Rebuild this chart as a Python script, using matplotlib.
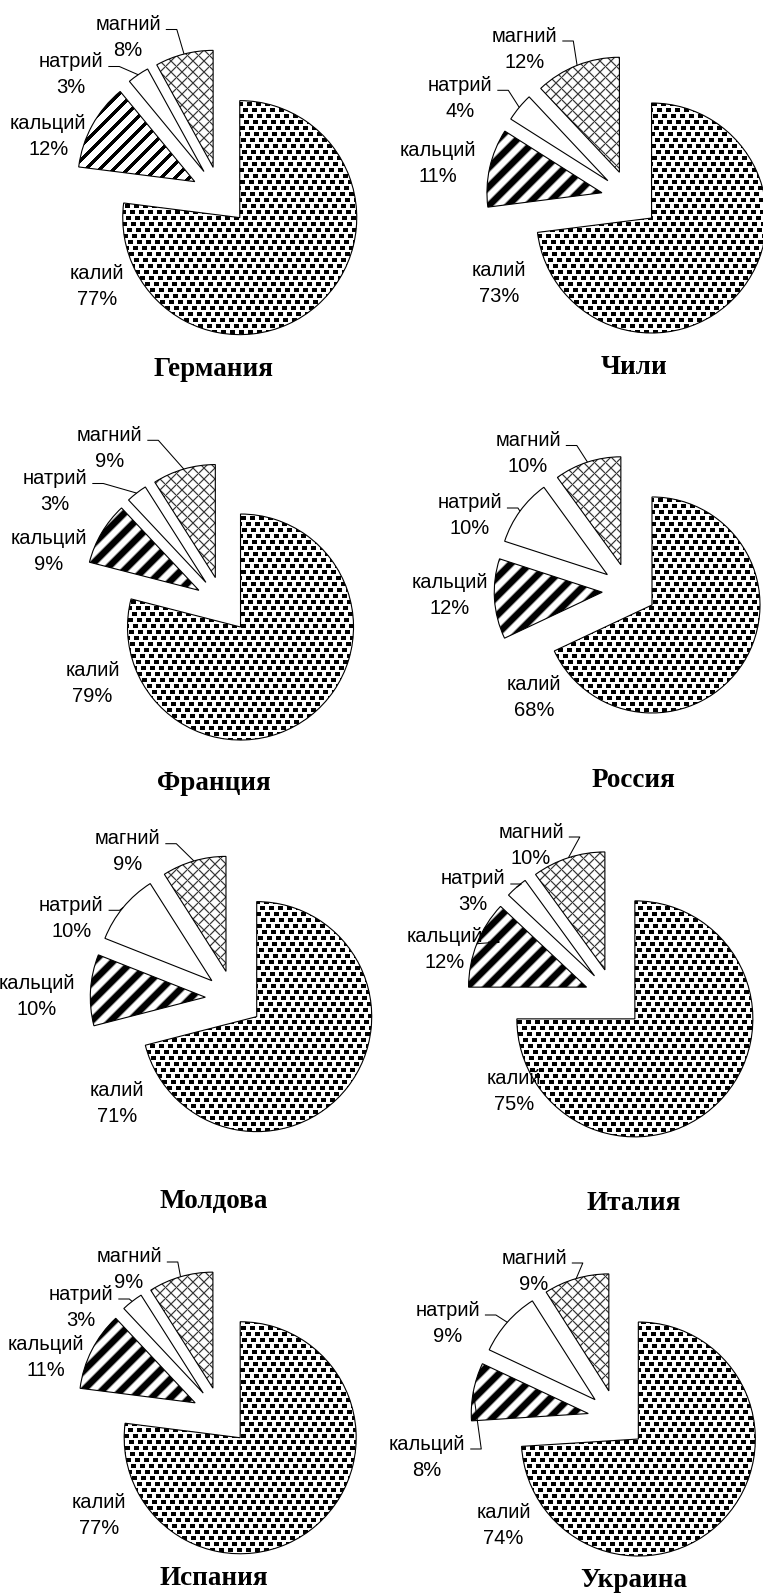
import numpy as np
import matplotlib
matplotlib.use("Agg")
import matplotlib.pyplot as plt
from matplotlib import font_manager

# ---------------------------------------------------------------- data
countries = ["Германия", "Чили", "Франция", "Россия",
             "Молдова", "Италия", "Испания", "Украина"]
elements = ["калий", "кальций", "натрий", "магний"]
potassium = [77, 73, 79, 68, 71, 75, 77, 74]
calcium = [12, 11, 9, 12, 10, 12, 11, 8]
sodium = [3, 4, 3, 10, 10, 3, 3, 9]
magnesium = [8, 12, 9, 10, 9, 10, 9, 9]

# ---------------------------------------------------------------- layout
W, H = 763, 1596  # figure size in pixels (dpi = 100)

# pixel positions measured from the top-left corner
layout = {
    "Германия": dict(center=(220.4, 195.7), r=117, title=(214, 376),
                     labels=[(96.7, 286.7), (48.3, 136.7), (71, 74.5), (128, 37.5)],
                     leaders=[False, False, True, True], crisp=True),
    "Чили": dict(center=(630, 199), r=115, title=(634, 374),
                 labels=[(499.3, 283.3), (437.7, 163.3), (460, 98.3), (524.5, 49)],
                 leaders=[False, False, True, True], crisp=False),
    "Франция": dict(center=(223.2, 604.7), r=113, title=(214, 790),
                    labels=[(92.5, 683), (48.7, 551.5), (55, 491.5), (109.5, 448.3)],
                    leaders=[False, False, True, True], crisp=False),
    "Россия": dict(center=(629.2, 590.5), r=108, title=(634, 787),
                   labels=[(534, 697), (450, 596), (469.6, 516), (528, 453.5)],
                   leaders=[False, False, True, True], crisp=False),
    "Молдова": dict(center=(234, 999), r=115, title=(214, 1208),
                    labels=[(116.7, 1103), (37, 996.7), (71.3, 918.3), (127.5, 851.7)],
                    leaders=[False, False, True, True], crisp=False),
    "Италия": dict(center=(614, 998), r=118, title=(634, 1210),
                   labels=[(514, 1091), (445, 950), (473, 892), (531, 845)],
                   leaders=[False, True, True, True], crisp=False),
    "Испания": dict(center=(221, 1416), r=116, title=(214, 1585),
                    labels=[(99, 1516), (46, 1358), (81, 1307), (129, 1270)],
                    leaders=[False, False, True, True], crisp=False),
    "Украина": dict(center=(617, 1419), r=117, title=(634, 1587),
                    labels=[(503.6, 1525), (427, 1457), (447.6, 1323), (534, 1271)],
                    leaders=[False, True, True, True], crisp=False),
}

installed = {f.name for f in font_manager.fontManager.ttflist}
if "Liberation Sans Narrow" in installed:
    LABEL_FONT, LABEL_SIZE = "Liberation Sans Narrow", 16.5
else:
    LABEL_FONT, LABEL_SIZE = "Liberation Sans", 14.5
TITLE_FONT = "Liberation Serif"
LINE_PITCH = 26.0
EXPLODE = 0.25  # offset of every slice as a share of the radius

# ---------------------------------------------------------------- fill textures
yy, xx = np.mgrid[0:H, 0:W]

# potassium: black blocks on a staggered lattice
band = yy // 6
yb = yy % 6
xs = (xx + 4 * band) % 9
blocks = (xs < 5) & (yb < 4)
tex_potassium = np.where(blocks, 0.0, 1.0)

# calcium: rising diagonal stripes, crisp and soft variants
tex_calcium_crisp = np.where((xx + yy) % 14 < 5, 0.0, 1.0)
phase = 2 * np.pi * (xx + yy) / 19.0
tex_calcium_soft = np.clip(0.5 + 1.2 * np.cos(phase), 0, 1)

# magnesium: diagonal grey cross-hatch
P = 11
d1 = (xx + yy) % P
d1 = np.minimum(d1, P - d1)
d2 = (xx - yy) % P
d2 = np.minimum(d2, P - d2)
line = np.maximum(np.exp(-(d1 / 1.0) ** 2), np.exp(-(d2 / 1.0) ** 2))
tex_magnesium = 1 - 0.78 * line

# ---------------------------------------------------------------- figure
fig = plt.figure(figsize=(W / 100, H / 100), dpi=100)
ax = fig.add_axes([0, 0, 1, 1])
ax.set_xlim(0, W)
ax.set_ylim(0, H)
ax.set_autoscale_on(False)
ax.axis("off")


def textured(wedge, tex, cx, cy, r):
    """Fill a wedge with a pixel texture clipped to its outline."""
    x0 = int(max(0, np.floor(cx - r - 3)))
    x1 = int(min(W, np.ceil(cx + r + 3)))
    top = int(max(0, np.floor(H - (cy + r + 3))))
    bot = int(min(H, np.ceil(H - (cy - r - 3))))
    im = ax.imshow(tex[top:bot, x0:x1], extent=(x0, x1, H - bot, H - top),
                   origin="upper", cmap="gray", vmin=0, vmax=1,
                   interpolation="nearest", zorder=2, aspect="auto")
    im.set_clip_path(wedge)


renderer = fig.canvas.get_renderer()

for i, country in enumerate(countries):
    lay = layout[country]
    values = [potassium[i], calcium[i], sodium[i], magnesium[i]]
    cx, cy_top = lay["center"]
    cy = H - cy_top
    r = lay["r"]
    wedges, _ = ax.pie(values, explode=[EXPLODE * r] * 4, startangle=90,
                       counterclock=False, center=(cx, cy), radius=r,
                       frame=True,
                       wedgeprops=dict(facecolor="none", edgecolor="black",
                                       linewidth=0.8, zorder=3))
    stripes = tex_calcium_crisp if lay["crisp"] else tex_calcium_soft
    for w, tex in zip(wedges, [tex_potassium, stripes, None, tex_magnesium]):
        if tex is not None:
            textured(w, tex, w.center[0], w.center[1], r)

    # two-line labels with leader lines
    for w, name, val, (lx, ly_top), lead in zip(wedges, elements, values,
                                                 lay["labels"], lay["leaders"]):
        y1 = H - (ly_top - LINE_PITCH / 2)
        y2 = H - (ly_top + LINE_PITCH / 2)
        t = ax.text(lx, y1, name, ha="center", va="center",
                    fontsize=LABEL_SIZE, family=LABEL_FONT, color="black", zorder=4)
        ax.text(lx, y2, f"{val}%", ha="center", va="center",
                fontsize=LABEL_SIZE, family=LABEL_FONT, color="black", zorder=4)
        if lead:
            bb = t.get_window_extent(renderer)
            sx = bb.x1 + 5
            sy = y1 - 5
            mid = np.deg2rad((w.theta1 + w.theta2) / 2)
            ex = w.center[0] + w.r * np.cos(mid)
            ey = w.center[1] + w.r * np.sin(mid)
            ax.plot([sx, sx + 11, ex], [sy, sy, ey], color="black",
                    linewidth=0.75, zorder=4, solid_capstyle="butt")

    tx, ty_top = lay["title"]
    ax.text(tx, H - ty_top, country, ha="center", va="baseline",
            fontsize=19.5, family=TITLE_FONT, weight="bold", color="black")

ax.set_xlim(0, W)
ax.set_ylim(0, H)
fig.savefig("out.png", dpi=100, facecolor="white")
